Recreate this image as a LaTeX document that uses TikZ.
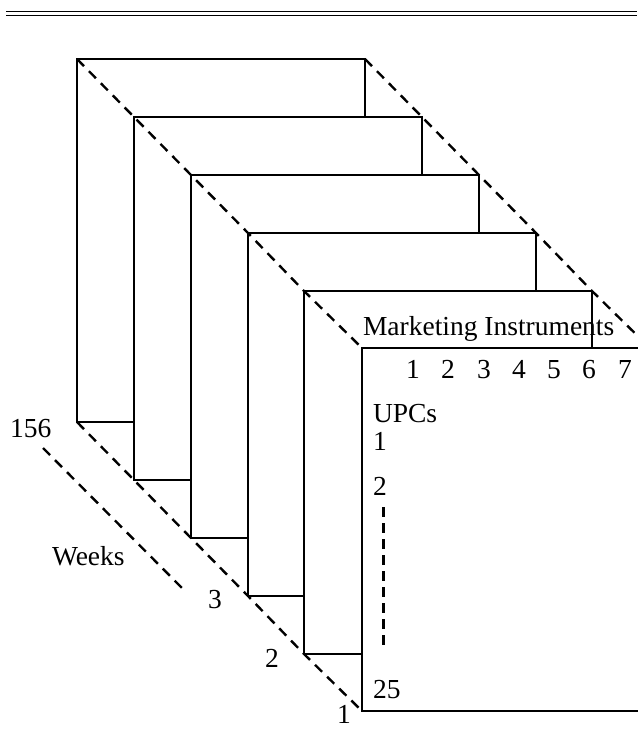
\documentclass[tikz,border=0pt]{standalone}
\usepackage{fontspec}
\setmainfont{Liberation Serif}
\begin{document}
\begin{tikzpicture}[x=1pt,y=-1pt,
  panel/.style={draw=black, fill=white, line width=2.4pt, inner sep=0pt, outer sep=0pt,
    minimum width=288pt, minimum height=363pt, anchor=north west},
  dashline/.style={draw=black, line width=2.4pt, dash pattern=on 10pt off 7pt},
  vdash/.style={draw=black, line width=3pt, dash pattern=on 10pt off 6pt},
  lbl/.style={inner sep=0pt, outer sep=0pt, font=\fontsize{27.5}{29}\selectfont},
  rule/.style={draw=black, line width=1.7pt}]
\useasboundingbox (0,0) rectangle (637,754);
% top double rule
\draw[rule] (6,11.5) -- (637,11.5);
\draw[rule] (6,15.5) -- (637,15.5);
% panels, back to front
\node[panel] (r1) at (77,59) {};
\node[panel] (r2) at (134,117) {};
\node[panel] (r3) at (191,175) {};
\node[panel] (r4) at (248,233) {};
\node[panel] (r5) at (304,291) {};
\node[panel] (r6) at (362,348) {};
% dashed edges of the stack
\draw[dashline] (r1.north west) -- (r2.north west) -- (r3.north west) -- (r4.north west) -- (r5.north west) -- (r6.north west);
\draw[dashline] (r1.north east) -- (r2.north east) -- (r3.north east) -- (r4.north east) -- (r5.north east) -- (r6.north east);
\draw[dashline] (r1.south west) -- (r2.south west) -- (r3.south west) -- (r4.south west) -- (r5.south west) -- (r6.south west);
% weeks axis
\coordinate (wa) at (43,448);
\coordinate (wb) at (182,588);
\draw[dashline] (wa) -- (wb);
% labels
\node[lbl, anchor=base west] (mi) at (363,335) {Marketing Instruments};
\node[lbl, anchor=base] (c1) at (413,378) {1};
\node[lbl, anchor=base] (c2) at (448,378) {2};
\node[lbl, anchor=base] (c3) at (484,378) {3};
\node[lbl, anchor=base] (c4) at (519,378) {4};
\node[lbl, anchor=base] (c5) at (554,378) {5};
\node[lbl, anchor=base] (c6) at (589,378) {6};
\node[lbl, anchor=base] (c7) at (625,378) {7};
\node[lbl, anchor=base west] (upcs) at (373,422) {UPCs};
\node[lbl, anchor=base west] (u1) at (373,450) {1};
\node[lbl, anchor=base west] (u2) at (373,495) {2};
\node[lbl, anchor=base west] (u25) at (373,698) {25};
\coordinate (da) at (383,507);
\coordinate (db) at (383,648);
\draw[vdash] (da) -- (db);
\node[lbl, anchor=base west] (w156) at (10,437) {156};
\node[lbl, anchor=base west] (weeks) at (52,565) {Weeks};
\node[lbl, anchor=base] (w3) at (215,608) {3};
\node[lbl, anchor=base] (w2) at (272,667) {2};
\node[lbl, anchor=base] (w1) at (344,723) {1};
\end{tikzpicture}
\end{document}
